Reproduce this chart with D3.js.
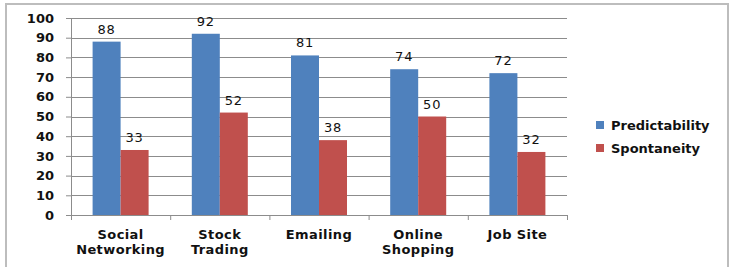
<!DOCTYPE html>
<html><head><meta charset="utf-8">
<script src="https://cdn.jsdelivr.net/npm/d3@7"></script>
<style>body{margin:0;background:#fff}svg{display:block}</style>
</head><body>
<script>
const categories = [["Social","Networking"],["Stock","Trading"],["Emailing"],["Online","Shopping"],["Job Site"]];
const seriesNames = ["Predictability","Spontaneity"];
const predictability = [88,92,81,74,72];
const spontaneity = [33,52,38,50,32];
const yTicks = [0,10,20,30,40,50,60,70,80,90,100];
const colors = ["#4F81BD","#C0504D"];

(function(){
const W = 736, H = 267;
const svg = d3.select("body").append("svg").attr("width",W).attr("height",H);
svg.append("rect").attr("x",6).attr("y",4).attr("width",722).attr("height",270)
  .attr("fill","#fff").attr("stroke","#bdbdbd").attr("stroke-width",2);

const pLeft = 71, pRight = 567, pTop = 18, pBottom = 215;
const keys = categories.map((c,i)=>i);
const x = d3.scaleBand().domain(keys).range([pLeft,pRight]).paddingInner(0).paddingOuter(0);
const x1 = d3.scaleBand().domain([0,1]).range([0,56]);
const y = d3.scaleLinear().domain([0,100]).range([pBottom,pTop]);
const font = "'DejaVu Sans', Verdana, sans-serif";

svg.append("g").selectAll("line").data(yTicks.filter(t=>t>0)).join("line")
  .attr("x1",pLeft).attr("x2",pRight).attr("y1",d=>Math.round(y(d))+0.5).attr("y2",d=>Math.round(y(d))+0.5)
  .attr("stroke","#8c8c8c").attr("stroke-width",1);

const yAxis = svg.append("g").attr("transform",`translate(${pLeft},0)`)
  .call(d3.axisLeft(y).tickValues(yTicks).tickSize(5).tickPadding(12));
yAxis.select(".domain").attr("stroke","#8c8c8c");
yAxis.selectAll(".tick line").attr("stroke","#8c8c8c");
yAxis.selectAll("text").attr("font-family",font).attr("font-weight","bold").attr("font-size",13).attr("fill","#111");

const data = [predictability, spontaneity];
const groups = svg.append("g");
data.forEach((vals,s)=>{
  groups.selectAll(null).data(vals).join("rect")
    .attr("x",(d,i)=>x(i)+x.bandwidth()/2-28+x1(s))
    .attr("y",d=>y(d)).attr("width",x1.bandwidth()).attr("height",d=>pBottom-y(d))
    .attr("fill",colors[s]);
  groups.selectAll(null).data(vals).join("text")
    .attr("x",(d,i)=>x(i)+x.bandwidth()/2-28+x1(s)+x1.bandwidth()/2)
    .attr("y",d=>y(d)-8)
    .attr("text-anchor","middle").attr("font-family",font).attr("font-size",13)
    .attr("letter-spacing",0.8).attr("fill","#111").text(d=>d);
});

svg.append("line").attr("x1",pLeft).attr("x2",pRight).attr("y1",pBottom+0.5).attr("y2",pBottom+0.5).attr("stroke","#8c8c8c");
svg.append("g").selectAll("line").data(d3.range(categories.length+1)).join("line")
  .attr("x1",i=>pLeft+i*x.bandwidth()+0.5).attr("x2",i=>pLeft+i*x.bandwidth()+0.5)
  .attr("y1",pBottom).attr("y2",pBottom+5).attr("stroke","#8c8c8c");
const xl = svg.append("g");
categories.forEach((lines,i)=>{
  const t = xl.append("text").attr("text-anchor","middle").attr("font-family",font)
    .attr("font-weight","bold").attr("font-size",13).attr("letter-spacing",0.4).attr("fill","#111");
  lines.forEach((ln,j)=>t.append("tspan").attr("x",x(i)+x.bandwidth()/2).attr("y",239+j*14.5).text(ln));
});

const lg = svg.append("g");
seriesNames.forEach((n,i)=>{
  lg.append("rect").attr("x",596).attr("y",121+i*23).attr("width",8).attr("height",8).attr("fill",colors[i]);
  lg.append("text").attr("x",611).attr("y",130+i*23).attr("font-family",font).attr("font-weight","bold")
    .attr("font-size",13).attr("fill","#111").text(n);
});
})();
</script>
</body></html>
